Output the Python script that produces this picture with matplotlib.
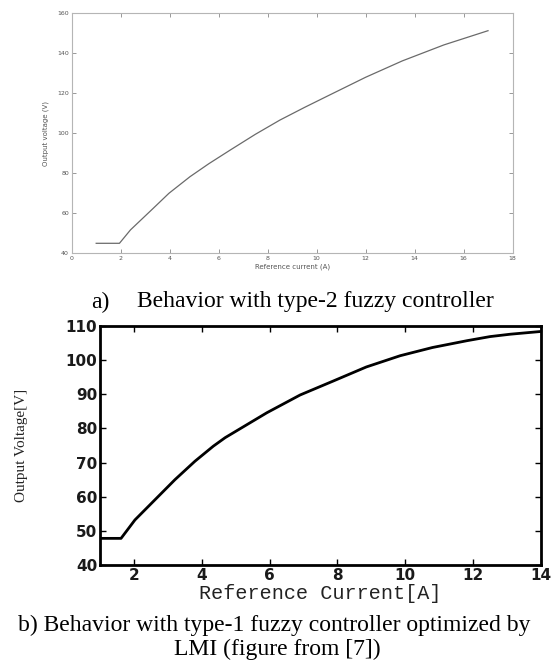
import matplotlib
matplotlib.use('Agg')
import matplotlib.pyplot as plt

# a) type-2 fuzzy controller (read from picture)
t2_current = [1.0, 1.95, 2.4, 3.33, 3.97, 4.83, 5.6, 6.47, 7.5, 8.5, 9.5, 10.54, 12.0, 13.5, 15.2, 17.0]
t2_voltage = [45.0, 45.0, 51.7, 62.5, 70.0, 78.3, 84.8, 91.6, 99.5, 106.6, 112.9, 119.2, 128.0, 136.2, 144.2, 151.3]

# b) type-1 fuzzy controller optimized by LMI
t1_current = [1.0, 1.62, 2.03, 2.62, 3.21, 3.80, 4.34, 4.69, 5.92, 6.9, 7.88, 8.85, 9.85, 10.8, 11.82, 12.5, 13.1, 14.0]
t1_voltage = [47.8, 47.8, 53.2, 59.1, 65.0, 70.4, 74.8, 77.3, 84.6, 89.8, 93.9, 98.0, 101.3, 103.7, 105.7, 106.9, 107.6, 108.4]

top_xticks = list(range(0, 19, 2))
top_yticks = list(range(40, 161, 20))
bot_xticks = list(range(2, 15, 2))
bot_yticks = list(range(40, 111, 10))

W, H = 560, 661
fig = plt.figure(figsize=(W / 100, H / 100), dpi=100)

def box(l, t, r, b):
    # pixel box -> figure fraction
    return [l / W, 1 - b / H, (r - l) / W, (b - t) / H]

# ---- top chart (MATLAB style, gray) ----
ax1 = fig.add_axes(box(71.7, 13.3, 512.5, 253.3))
ax1.plot(t2_current, t2_voltage, color='#6a6a6a', lw=0.9)
ax1.set_xlim(0, 18)
ax1.set_ylim(40, 160)
ax1.set_xticks(top_xticks)
ax1.set_yticks(top_yticks)
for s in ax1.spines.values():
    s.set_color('#b5b5b5')
    s.set_linewidth(0.8)
ax1.tick_params(direction='in', length=3, width=0.6, color='#888888',
                labelsize=4.5, labelcolor='#555555', pad=2,
                top=True, right=True)
ax1.set_xlabel('Reference current (A)', fontsize=5, color='#555555', labelpad=2)
ax1.set_ylabel('Output voltage (V)', fontsize=5, color='#555555', labelpad=6)

# ---- bottom chart (bold black) ----
ax2 = fig.add_axes(box(100, 326, 541, 565))
ax2.plot(t1_current, t1_voltage, color='black', lw=2)
ax2.set_xlim(1, 14)
ax2.set_ylim(40, 110)
ax2.set_xticks(bot_xticks)
ax2.set_yticks(bot_yticks)
for s in ax2.spines.values():
    s.set_color('black')
    s.set_linewidth(2)
ax2.tick_params(direction='in', length=4, width=1, color='black',
                labelsize=11, labelcolor='#1a1a1a', pad=2,
                top=True, right=True)
for lab in ax2.get_xticklabels() + ax2.get_yticklabels():
    lab.set_fontweight('bold')
ax2.set_xlabel('Reference Current[A]', fontsize=14.5, family='Liberation Mono',
               color='#222222', labelpad=1)
ax2.set_ylabel('Output Voltage[V]', fontsize=11, family='Liberation Serif',
               color='#222222')
ax2.yaxis.set_label_coords(-0.177, 0.5)
ax2.yaxis.label.set_va('center')

# ---- captions ----
cap = dict(family='Liberation Serif', fontsize=17, color='black')
fig.text(91 / W, 1 - 302 / H, 'a)', ha='left', va='center', **cap)
fig.text(137 / W, 1 - 302 / H, 'Behavior with type-2 fuzzy controller',
         ha='left', va='center', **cap)
fig.text(274 / W, 1 - 625 / H, 'b) Behavior with type-1 fuzzy controller optimized by',
         ha='center', va='center', **cap)
fig.text(277 / W, 1 - 649 / H, 'LMI (figure from [7])', ha='center', va='center', **cap)

fig.savefig('out.png', dpi=100)
